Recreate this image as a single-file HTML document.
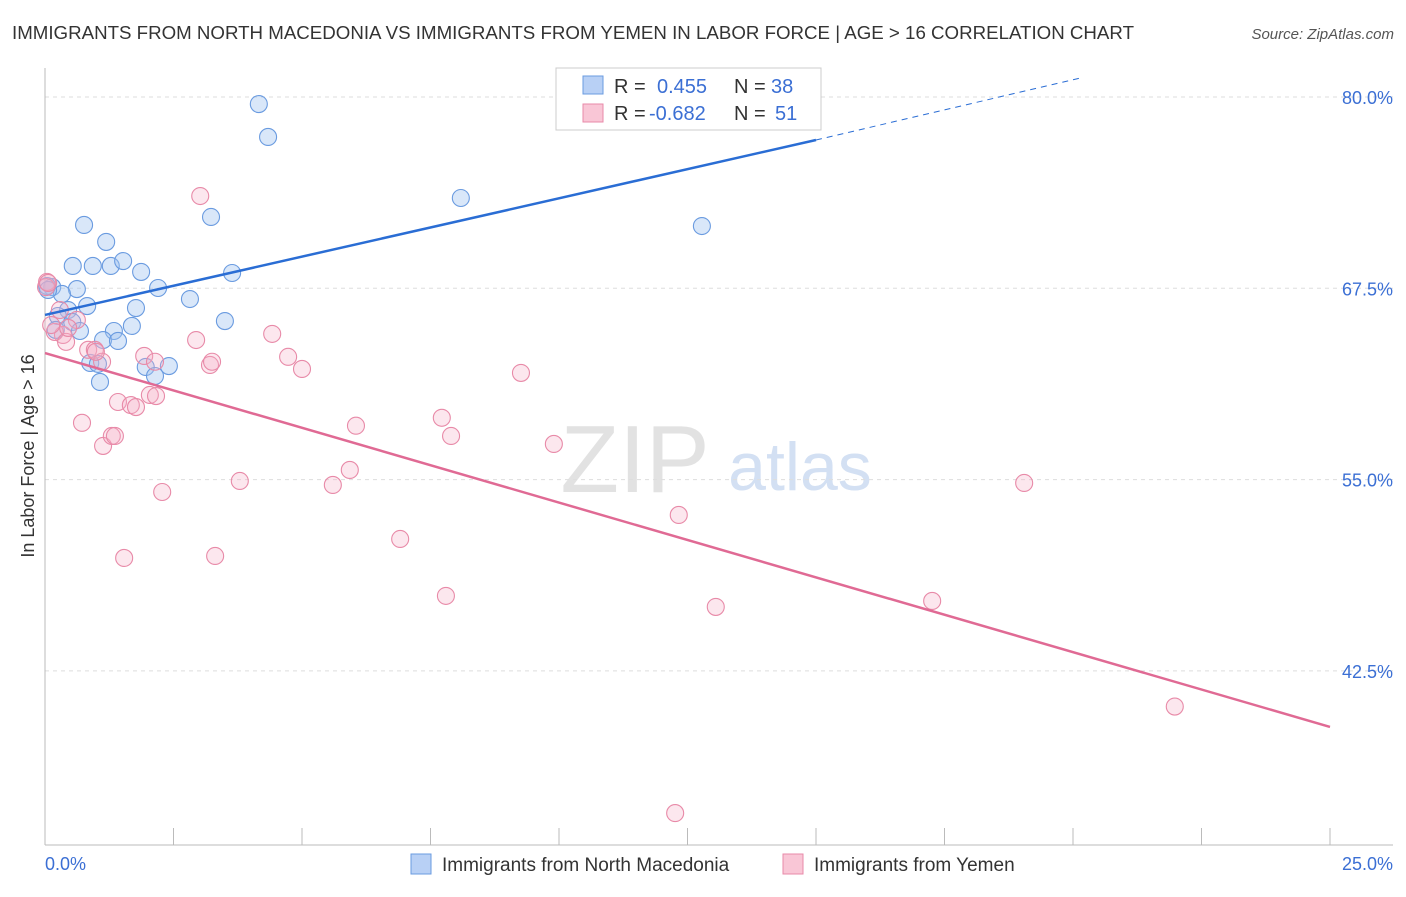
<!DOCTYPE html>
<html><head><meta charset="utf-8"><style>
body{margin:0;background:#fff;font-family:"Liberation Sans",sans-serif;}
svg text{font-family:"Liberation Sans",sans-serif;}
</style></head><body>
<svg id="chart" width="1406" height="892" xmlns="http://www.w3.org/2000/svg">
<text x="12" y="39" font-size="18" fill="#333" textLength="1122" lengthAdjust="spacingAndGlyphs">IMMIGRANTS FROM NORTH MACEDONIA VS IMMIGRANTS FROM YEMEN IN LABOR FORCE | AGE &gt; 16 CORRELATION CHART</text>
<text x="1394" y="39" font-size="15" fill="#555" font-style="italic" text-anchor="end">Source: ZipAtlas.com</text>
<g>
<text x="635" y="492" font-size="96" font-family="Liberation Serif" fill="#e2e2e2" text-anchor="middle">ZIP</text>
<text x="800" y="490" font-size="68" fill="#d3e0f3" text-anchor="middle">atlas</text>
</g>
<g id="grid"></g>
<g id="axes"></g>
<g id="marks"></g>
<g id="lines"></g>
<text transform="translate(34,456) rotate(-90)" font-size="18" fill="#333" text-anchor="middle">In Labor Force | Age &gt; 16</text>
<text x="45" y="870" font-size="18" fill="#3b6fd4">0.0%</text>
<text x="1393" y="870" font-size="18" fill="#3b6fd4" text-anchor="end">25.0%</text>
<g>
<rect x="556" y="68" width="265" height="62" fill="#fff" stroke="#ccc"/>
<rect x="583" y="76" width="20" height="18" fill="#b8d0f5" stroke="#6a9be0"/>
<rect x="583" y="104" width="20" height="18" fill="#f9c6d6" stroke="#e88aa8"/>
<text x="614" y="93" font-size="20" fill="#333">R = <tspan x="657" fill="#3b6fd4">0.455</tspan><tspan x="734">N =</tspan><tspan x="771" fill="#3b6fd4">38</tspan></text>
<text x="614" y="120" font-size="20" fill="#333">R = <tspan x="649" fill="#3b6fd4">-0.682</tspan><tspan x="734">N =</tspan><tspan x="775" fill="#3b6fd4">51</tspan></text>
</g>
<g>
<rect x="411" y="854" width="20" height="20" fill="#b8d0f5" stroke="#6a9be0"/>
<text x="442" y="871" font-size="19" fill="#333">Immigrants from North Macedonia</text>
<rect x="783" y="854" width="20" height="20" fill="#f9c6d6" stroke="#e88aa8"/>
<text x="814" y="871" font-size="19" fill="#333">Immigrants from Yemen</text>
</g>
</svg>
<script>
const yTicks=[80,67.5,55,42.5];
const yTickLabels=["80.0%","67.5%","55.0%","42.5%"];
const xTicks=[0,2.5,5,7.5,10,12.5,15,17.5,20,22.5,25];
const blueX=[4.16,4.34,0.76,1.19,3.23,8.09,12.78,0.54,0.93,1.28,1.52,1.87,3.64,2.20,0.62,0.14,0.33,0.82,0.45,1.77,2.82,3.50,0.25,0.53,0.68,1.69,1.34,1.13,1.42,0.21,0.88,1.03,1.96,2.41,2.14,1.07,0.04,0.06];
const blueY=[79.54,77.39,71.64,70.53,72.16,73.40,71.57,68.96,68.96,68.96,69.28,68.57,68.50,67.52,67.45,67.58,67.13,66.34,66.08,66.21,66.80,65.36,65.69,65.30,64.71,65.04,64.71,64.12,64.06,64.78,62.62,62.56,62.36,62.42,61.77,61.38,67.65,67.39];
const pinkX=[3.02,0.04,0.02,0.29,0.62,0.35,0.19,0.41,0.84,0.97,1.11,4.42,2.94,4.73,5.00,1.93,2.14,3.21,3.25,9.26,1.42,1.67,1.77,2.04,2.16,0.72,1.13,1.30,1.36,6.05,7.72,7.90,9.90,5.93,3.79,5.60,2.28,19.05,12.33,6.91,1.54,3.31,7.80,13.05,17.26,21.98,12.26,0.99,0.12,0.06,0.45];
const pinkY=[73.53,67.92,67.58,66.08,65.43,64.45,64.65,64.00,63.48,63.48,62.70,64.52,64.12,63.02,62.23,63.08,62.70,62.49,62.70,61.97,60.07,59.87,59.74,60.53,60.46,58.71,57.20,57.85,57.85,58.52,59.04,57.85,57.33,55.63,54.91,54.65,54.19,54.78,52.69,51.12,49.88,50.01,47.40,46.68,47.07,40.17,33.21,63.35,65.10,67.85,64.91];
const blueTrend=[[0,65.76],[15.0,77.19],[20.14,81.24]];
const pinkTrend=[[0,63.27],[25,38.84]];

const NS="http://www.w3.org/2000/svg";
const X=v=>45+v/25*1285;
const Y=v=>97+(80-v)/12.5*191.3;
function mk(tag,attrs,parent){const e=document.createElementNS(NS,tag);for(const k in attrs)e.setAttribute(k,attrs[k]);document.getElementById(parent).appendChild(e);return e;}
yTicks.forEach((t,i)=>{
  const l=mk('line',{x1:45,x2:1393,y1:Y(t),y2:Y(t),stroke:'#ddd','stroke-dasharray':'4,4'},'grid');
  
  
  const tx=mk('text',{x:1393,y:Y(t)+7,'font-size':18,fill:'#3b6fd4','text-anchor':'end'},'grid');
  tx.textContent=yTickLabels[i];
  
  
});
const ya=mk('line',{x1:45,x2:45,y1:68,y2:845,stroke:'#bbb'},'axes');


const xa=mk('line',{x1:45,x2:1393,y1:845,y2:845,stroke:'#bbb'},'axes');


xTicks.forEach(t=>{
  const k=mk('line',{x1:X(t),x2:X(t),y1:828,y2:845,stroke:'#bbb'},'axes');
  
  
});
blueX.forEach((v,i)=>{
  const c=mk('circle',{cx:X(v),cy:Y(blueY[i]),r:8.5,fill:'rgba(160,195,240,0.4)',stroke:'#6a9be0','stroke-width':1.1},'marks');
  
  
});
pinkX.forEach((v,i)=>{
  const c=mk('circle',{cx:X(v),cy:Y(pinkY[i]),r:8.5,fill:'rgba(245,175,200,0.3)',stroke:'#e88aa8','stroke-width':1.1},'marks');
  
  
});
const b1=mk('line',{x1:X(blueTrend[0][0]),y1:Y(blueTrend[0][1]),x2:X(blueTrend[1][0]),y2:Y(blueTrend[1][1]),stroke:'#2a6dd4','stroke-width':2.5},'lines');


const b2=mk('line',{x1:X(blueTrend[1][0]),y1:Y(blueTrend[1][1]),x2:X(blueTrend[2][0]),y2:Y(blueTrend[2][1]),stroke:'#2a6dd4','stroke-width':1,'stroke-dasharray':'6,5'},'lines');


const p1=mk('line',{x1:X(pinkTrend[0][0]),y1:Y(pinkTrend[0][1]),x2:X(pinkTrend[1][0]),y2:Y(pinkTrend[1][1]),stroke:'#e06a94','stroke-width':2.5},'lines');


</script>
</body></html>
